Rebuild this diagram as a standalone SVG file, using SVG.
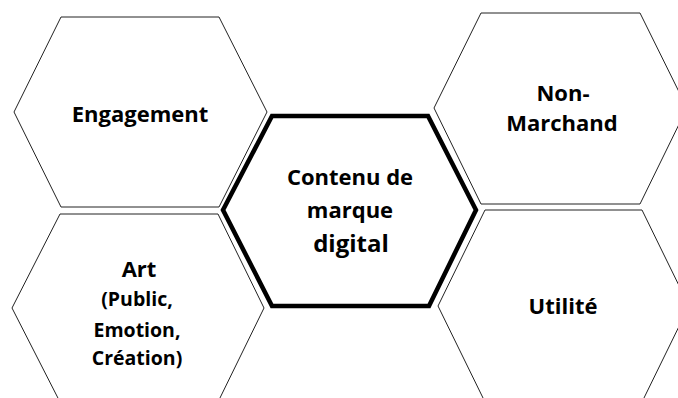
<svg xmlns="http://www.w3.org/2000/svg" width="678" height="398" viewBox="0 0 678 398">
<style>
.hex{fill:#fff;stroke:#222;stroke-width:1;stroke-linejoin:miter}
.core{fill:#fff;stroke:#000;stroke-width:4.5;stroke-linejoin:miter}
text{font-family:"Open Sans","Liberation Sans",sans-serif;font-weight:bold;fill:#000;text-anchor:middle}
.t{font-size:22px}
.s{font-size:19.5px}
.b{font-size:24px}
</style>
<rect width="678" height="398" fill="#fff"/>
<g id="connectors"></g>
<g id="engagement">
<polygon class="hex" points="61,17 219,17 267,112 219,207 61,207 14,112"/>
<text class="t" x="140" y="122">Engagement</text>
</g>
<g id="art">
<polygon class="hex" points="60,214 218,214 264,308 218,402 60,402 12,308"/>
<text class="t" x="139" y="277">Art</text>
<text class="s" x="137" y="306">(Public,</text>
<text class="s" x="137" y="337">Emotion,</text>
<text class="s" x="137" y="365">Création)</text>
</g>
<g id="non-marchand">
<polygon class="hex" points="481,13 640,13 687,108 640,204 481,204 434,108"/>
<text class="t" x="563" y="101">Non-</text>
<text class="t" x="562" y="131">Marchand</text>
</g>
<g id="utilite">
<polygon class="hex" points="485,210 642,210 689,306 642,402 485,402 438,306"/>
<text class="t" x="563" y="314">Utilité</text>
</g>
<g id="contenu">
<polygon class="core" points="272,116 428,116 476,210 429,306 272,306 223,210"/>
<text class="t" x="350" y="185">Contenu de</text>
<text class="t" x="350" y="218">marque</text>
<text class="b" x="351" y="252">digital</text>
</g>
</svg>
